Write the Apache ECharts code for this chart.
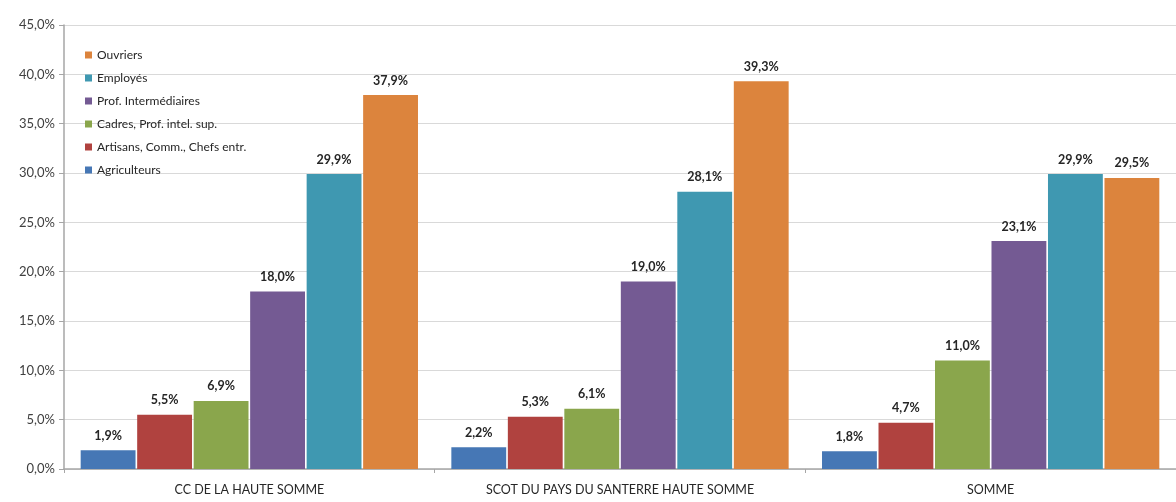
<!DOCTYPE html>
<html><head><meta charset="utf-8">
<script src="https://cdn.jsdelivr.net/npm/echarts@6/dist/echarts.min.js"></script>
<style>html,body{margin:0;padding:0;background:#fff}#c{width:1176px;height:502px}</style>
</head><body><div id="c"></div>
<script>
const categories = ['CC DE LA HAUTE SOMME', 'SCOT DU PAYS DU SANTERRE HAUTE SOMME', 'SOMME'];
const seriesNames = ['Agriculteurs', 'Artisans, Comm., Chefs entr.', 'Cadres, Prof. intel. sup.', 'Prof. Intermédiaires', 'Employés', 'Ouvriers'];
const agriculteurs = [1.9, 2.2, 1.8];
const artisans = [5.5, 5.3, 4.7];
const cadres = [6.9, 6.1, 11.0];
const profInter = [18.0, 19.0, 23.1];
const employes = [29.9, 28.1, 29.9];
const ouvriers = [37.9, 39.3, 29.5];
const yTicks = [0, 5, 10, 15, 20, 25, 30, 35, 40, 45];
const colors = ['#4677b5', '#b0423f', '#8aa64c', '#745a93', '#3f98b1', '#dc843d'];
const values = [agriculteurs, artisans, cadres, profInter, employes, ouvriers];
const fmt = v => v.toFixed(1).replace('.', ',') + '%';
const font = 'Lato, "Open Sans", sans-serif';
const chart = echarts.init(document.getElementById('c'));
chart.setOption({
  animation: false,
  textStyle: {fontFamily: font},
  grid: {left: 64, top: 25, width: 1114, bottom: 33, containLabel: false},
  legend: {
    orient: 'vertical', left: 80, top: 44, itemWidth: 7, itemHeight: 7, itemGap: 11,
    icon: 'rect',
    data: seriesNames.slice().reverse(),
    textStyle: {fontSize: 12, color: '#262626', fontFamily: font}
  },
  xAxis: {
    type: 'category', data: categories,
    axisLine: {lineStyle: {color: '#a6a6a6', width: 1.5}},
    axisTick: {show: true, alignWithLabel: false, length: 4, lineStyle: {color: '#a6a6a6'}},
    axisLabel: {fontSize: 12.5, color: '#262626', margin: 14, fontFamily: font}
  },
  yAxis: {
    type: 'value', min: yTicks[0], max: yTicks[yTicks.length - 1], interval: 5,
    axisLine: {show: true, lineStyle: {color: '#a6a6a6', width: 1.5}},
    axisTick: {show: true, length: 5, lineStyle: {color: '#a6a6a6'}},
    axisLabel: {fontSize: 13, color: '#404040', margin: 9, formatter: v => v.toFixed(1).replace('.', ',') + '%', fontFamily: font},
    splitLine: {lineStyle: {color: '#d9d9d9'}}
  },
  series: seriesNames.map((n, i) => ({
    name: n, type: 'bar', data: values[i],
    barGap: '3%', barCategoryGap: '9%',
    itemStyle: {color: colors[i]},
    label: {show: true, position: 'top', distance: 8, formatter: p => fmt(p.value), fontSize: 12.5, fontWeight: 'bold', color: '#262626', fontFamily: font}
  }))
});
</script></body></html>
